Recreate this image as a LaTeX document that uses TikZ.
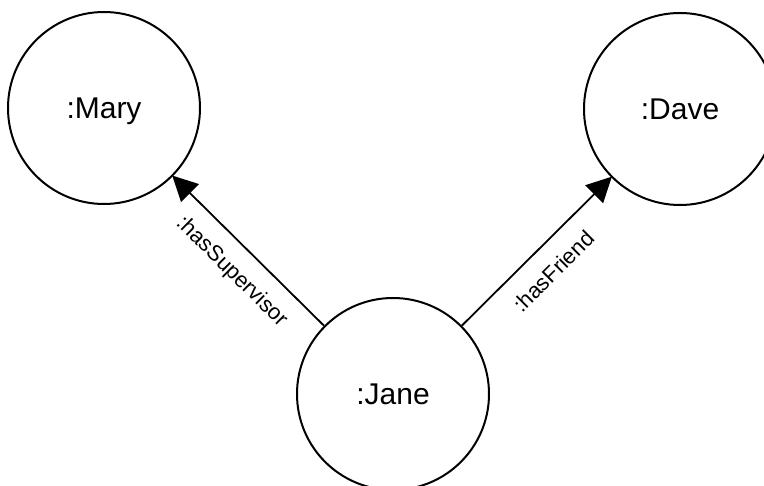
\documentclass[tikz,border=0pt]{standalone}
\usepackage{fontspec}
\setmainfont{Liberation Sans}
\usetikzlibrary{arrows.meta,calc}
\begin{document}
\begin{tikzpicture}[x=1pt,y=-1pt,
  entity/.style={circle,draw=black,line width=2pt,minimum size=192pt,inner sep=0pt,
    font=\fontsize{30}{34}\selectfont,text height=21.5pt,text depth=0pt},
  rel/.style={line width=1.8pt,-{Triangle[length=25pt,width=25pt]},shorten >=-1pt},
  rellabel/.style={font=\fontsize{22}{25}\selectfont,inner sep=0pt}]
\useasboundingbox (0,0) rectangle (764,486);
\clip (0,0) rectangle (764,486);
\node[entity] (mary) at (104,108) {:Mary};
\node[entity] (dave) at (680,109) {:Dave};
\node[entity] (jane) at (393,394) {:Jane};
\draw[rel] (jane) -- (mary);
\draw[rel] (jane) -- (dave);
\node[rellabel,rotate=-44.7] (lsup) at ($(jane)!0.5!(mary)+(-17,21)$) {:hasSupervisor};
\node[rellabel,rotate=45] (lfr) at ($(jane)!0.5!(dave)+(17,20)$) {:hasFriend};
\end{tikzpicture}
\end{document}
